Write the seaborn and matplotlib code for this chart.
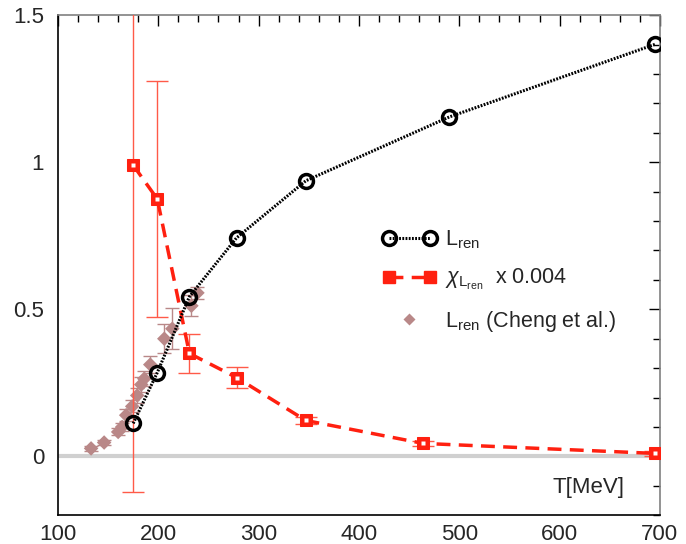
import numpy as np
import pandas as pd
import matplotlib
matplotlib.use("Agg")
import matplotlib.pyplot as plt
import seaborn as sns
from matplotlib.ticker import MultipleLocator
from matplotlib.lines import Line2D
from matplotlib.legend_handler import HandlerLine2D

# ---- data ----
T_L = [175, 199, 231, 278, 347, 490, 695]
L_ren = [0.112, 0.285, 0.543, 0.743, 0.937, 1.154, 1.401]

T_chi = [175, 199, 231, 278, 347, 464, 695]
chi = [0.99, 0.875, 0.35, 0.268, 0.122, 0.044, 0.010]
chi_err = [1.11, 0.40, 0.066, 0.035, 0.012, 0.008, 0.008]

T_cheng = [133, 146, 160, 164, 168, 174, 179, 183, 186, 192, 206, 214, 233, 239]
L_cheng = [0.027, 0.047, 0.083, 0.100, 0.140, 0.170, 0.207, 0.244, 0.264, 0.312, 0.400, 0.434, 0.512, 0.556]
cheng_err = [0.008, 0.010, 0.012, 0.015, 0.020, 0.020, 0.025, 0.025, 0.025, 0.030, 0.050, 0.070, 0.035, 0.020]

xticks = [100, 200, 300, 400, 500, 600, 700]
yticks = [0, 0.5, 1, 1.5]
ytick_labels = ["0", "0.5", "1", "1.5"]

sns.set_theme(style="white")
plt.rcParams['font.family'] = ['Liberation Sans', 'DejaVu Sans']
plt.rcParams['mathtext.fontset'] = 'custom'
plt.rcParams['mathtext.rm'] = 'Liberation Sans'
plt.rcParams['mathtext.it'] = 'Liberation Sans:italic'

fig = plt.figure(figsize=(6.86, 5.44), dpi=100)
ax = fig.add_axes([0.0845, 0.053, 0.8775, 0.919])

ax.axhline(0, color='#d0d0d0', lw=3, zorder=0)

df_L = pd.DataFrame({"T": T_L, "v": L_ren})
df_chi = pd.DataFrame({"T": T_chi, "v": chi})
df_ch = pd.DataFrame({"T": T_cheng, "v": L_cheng})

red = '#ff2010'
brown = '#b98888'
dot_ls = (0, (0.6, 0.45))
dash_ls = (0, (4.0, 2.4))

# Cheng et al. diamonds
ax.errorbar(T_cheng, L_cheng, yerr=cheng_err, fmt='none', ecolor=brown,
            elinewidth=1, capsize=5, capthick=1, zorder=2)
sns.scatterplot(data=df_ch, x="T", y="v", ax=ax, marker='D', s=55,
                color=brown, edgecolor='none', zorder=3, legend=False)

# chi errorbars
ax.errorbar(T_chi, chi, yerr=chi_err, fmt='none', ecolor='#ff5a48',
            elinewidth=1, capsize=8, capthick=1, zorder=4)
sns.lineplot(data=df_chi, x="T", y="v", ax=ax, color=red, lw=2.5,
             linestyle=dash_ls, marker='s', markersize=9,
             markeredgecolor=red, markerfacecolor=red, zorder=5, legend=False)
ax.plot(T_chi, chi, ls='none', marker='s', markersize=2.2, color='white',
        markeredgecolor='none', zorder=6)

# L_ren circles
sns.lineplot(data=df_L, x="T", y="v", ax=ax, color='black', lw=2.2,
             linestyle=dot_ls, marker='o', markersize=10,
             markerfacecolor='none', markeredgecolor='black', markeredgewidth=2.5,
             zorder=7, legend=False)

ax.set_xlim(100, 700)
ax.set_ylim(-0.2, 1.5)
ax.set_xticks(xticks)
ax.set_yticks(yticks)
ax.set_yticklabels(ytick_labels)
ax.xaxis.set_minor_locator(MultipleLocator(20))
ax.yaxis.set_minor_locator(MultipleLocator(0.1))
ax.tick_params(which='both', direction='in', top=True, right=True,
               labelsize=16, color='black')
ax.tick_params(which='major', length=8, width=1)
ax.tick_params(which='minor', length=5, width=1)
ax.tick_params(axis='x', which='major', pad=6)
ax.tick_params(axis='y', which='major', pad=10)
ax.set_xlabel("")
ax.set_ylabel("")
for s in ['left', 'bottom']:
    ax.spines[s].set_color('black')
    ax.spines[s].set_linewidth(1.2)
for s in ['top', 'right']:
    ax.spines[s].set_color('#808080')
    ax.spines[s].set_linewidth(1.2)

ax.text(665, -0.105, "T[MeV]", fontsize=16, ha='right', va='center')


class RightMarkerHandler(HandlerLine2D):
    def get_xdata(self, legend, xdescent, ydescent, width, height, fontsize):
        xdata = np.array([-xdescent, -xdescent + width])
        return xdata, np.array([-xdescent + width - 6.0])


h1 = Line2D([], [], color='black', lw=2.2, linestyle=dot_ls, marker='o',
            markersize=10, markerfacecolor='none', markeredgecolor='black',
            markeredgewidth=2.5)
h2 = Line2D([], [], color=red, lw=2.5, linestyle=dash_ls, marker='s',
            markersize=9, markerfacecolor=red, markeredgecolor=red)
h3 = Line2D([], [], ls='none', marker='D', markersize=6, color=brown,
            markeredgecolor='none')
leg = ax.legend([h1, h2, h3],
                [r"L$_{\mathrm{ren}}$",
                 r"$\chi_{\mathrm{L}_{\mathrm{ren}}}$  x 0.004",
                 r"L$_{\mathrm{ren}}$ (Cheng et al.)"],
                loc='upper left', bbox_to_anchor=(0.507, 0.612), frameon=False,
                fontsize=15.5, handlelength=2.5, labelspacing=0.75,
                handletextpad=0.4, numpoints=2,
                handler_map={h3: RightMarkerHandler(numpoints=1)})

fig.savefig("out.png", dpi=100)
